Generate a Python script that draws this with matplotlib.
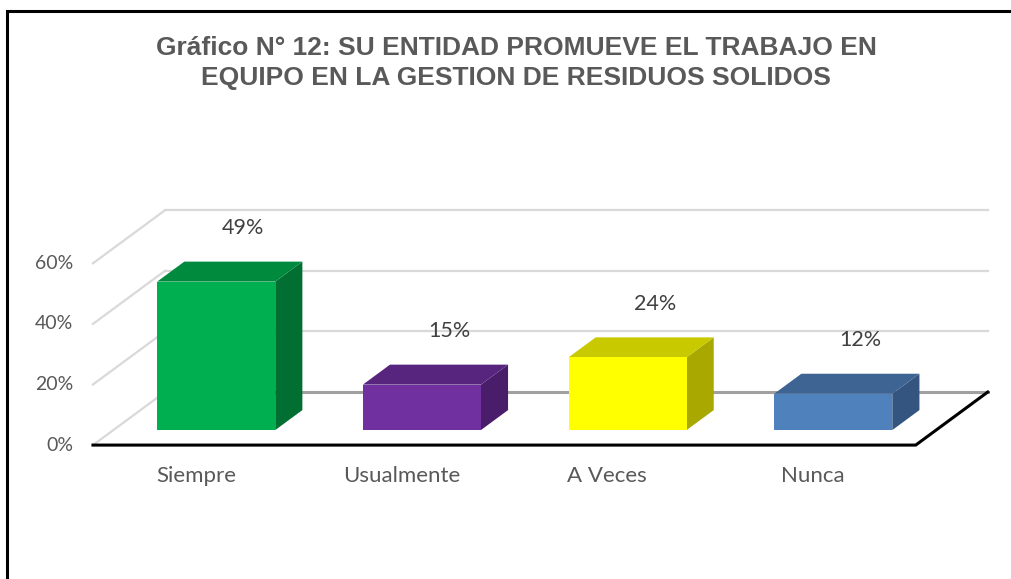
import matplotlib
matplotlib.use("Agg")
import matplotlib.pyplot as plt
from matplotlib.patches import Polygon
from matplotlib.lines import Line2D

# ---- data ----
categories = ["Siempre", "Usualmente", "A Veces", "Nunca"]
values = [49, 15, 24, 12]
value_labels = ["49%", "15%", "24%", "12%"]
ticks = [0, 20, 40, 60]
tick_labels = ["0%", "20%", "40%", "60%"]
title = "Gráfico N° 12: SU ENTIDAD PROMUEVE EL TRABAJO EN\nEQUIPO EN LA GESTION DE RESIDUOS SOLIDOS"

front_colors = ["#00B050", "#7030A0", "#FFFF00", "#4F81BD"]
top_colors = ["#008A3E", "#57247E", "#C9C900", "#3D6493"]
side_colors = ["#006F31", "#4A1D6B", "#A8A800", "#335580"]

# ---- oblique projection parameters ----
DX = 0.35      # depth offset in category units
DZ = 17.5      # depth offset in percent units
BAR_W = 0.574
D0, D1 = 0.283, 0.66
X0, X1 = -0.5, len(categories) - 0.5

def proj(x, d, z):
    return (x + d * DX, z + d * DZ)

fig = plt.figure(figsize=(10.12, 5.79), dpi=100)
ax = fig.add_axes([0, 0, 1, 1])
ax.set_xlim(-0.952, 3.968)
ax.set_ylim(-44.2, 146.9)
ax.axis("off")

grid_c = "#D9D9D9"
# back wall gridlines + left side wall lines
for t in ticks[1:]:
    a = proj(X0, 1, t); b = proj(X1, 1, t)
    ax.plot([a[0], b[0]], [a[1], b[1]], color=grid_c, lw=1.6, zorder=1)
for t in ticks:
    a = proj(X0, 0, t); b = proj(X0, 1, t)
    ax.plot([a[0], b[0]], [a[1], b[1]], color=grid_c, lw=1.6, zorder=1)

# floor back edge (0 on back wall)
a = proj(X0, 1, 0); b = proj(X1, 1, 0)
ax.plot([a[0], b[0]], [a[1], b[1]], color="#A0A0A0", lw=2.2, zorder=1)

# floor front and right edges
fl = proj(X0, 0, 0); fr = proj(X1, 0, 0); br = proj(X1, 1, 0)
ax.plot([fl[0], fr[0], br[0]], [fl[1], fr[1], br[1]], color="black", lw=2.2,
        zorder=2, solid_joinstyle="miter")

# bars
for i, v in enumerate(values):
    xl, xr = i - BAR_W / 2, i + BAR_W / 2
    front = [proj(xl, D0, 0), proj(xr, D0, 0), proj(xr, D0, v), proj(xl, D0, v)]
    top = [proj(xl, D0, v), proj(xr, D0, v), proj(xr, D1, v), proj(xl, D1, v)]
    side = [proj(xr, D0, 0), proj(xr, D1, 0), proj(xr, D1, v), proj(xr, D0, v)]
    ax.add_patch(Polygon(side, closed=True, facecolor=side_colors[i], edgecolor="none", zorder=3))
    ax.add_patch(Polygon(top, closed=True, facecolor=top_colors[i], edgecolor="none", zorder=3))
    ax.add_patch(Polygon(front, closed=True, facecolor=front_colors[i], edgecolor="none", zorder=4))
    lx, ly = proj(i, D1, v + 11)
    ax.text(lx, ly, value_labels[i], ha="center", va="center", fontsize=15.5,
            color="#404040", family="Lato", zorder=5)

# tick labels
for t, lab in zip(ticks, tick_labels):
    px, py = proj(X0 - 0.097, 0, t)
    ax.text(px, py, lab, ha="right", va="center", fontsize=14, color="#595959", family="Lato")

# category labels
for i, c in enumerate(categories):
    px, py = proj(i, 0, -10.2)
    ax.text(px, py, c, ha="center", va="center", fontsize=16, color="#595959", family="Lato")

# title
fig.text(516 / 1012, 1 - 63 / 579, title, ha="center", va="center", fontsize=19,
         fontweight="bold", color="#595959", family="Liberation Sans", linespacing=1.32)

# chart frame (left and top)
fig.add_artist(Line2D([7 / 1012, 7 / 1012, 1.0], [0.0, 1 - 11 / 579, 1 - 11 / 579],
                      transform=fig.transFigure, color="black", lw=2.2,
                      solid_joinstyle="miter"))

fig.savefig("out.png", dpi=100)
